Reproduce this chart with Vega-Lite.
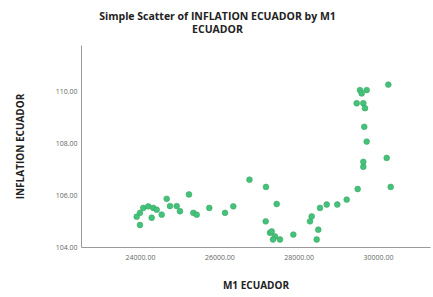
{
  "$schema": "https://vega.github.io/schema/vega-lite/v6.json",
  "autosize": "none",
  "width": 349,
  "height": 202,
  "padding": {"left": 81, "top": 45, "right": 3, "bottom": 50},
  "background": "white",
  "title": {
    "text": ["Simple Scatter of INFLATION ECUADOR by M1", "ECUADOR"],
    "font": "Open Sans",
    "fontSize": 10.5,
    "fontWeight": "bold",
    "color": "#222222",
    "anchor": "middle",
    "dx": -38,
    "offset": 10,
    "lineHeight": 12.5
  },
  "config": {
    "view": {"stroke": null},
    "axis": {
      "grid": false,
      "domainColor": "#999999",
      "domainWidth": 1,
      "ticks": false,
      "labelFont": "Open Sans",
      "labelFontSize": 7,
      "labelColor": "#666666",
      "titleFont": "Open Sans",
      "titleFontSize": 10,
      "titleFontWeight": "bold",
      "titleColor": "#222222"
    }
  },
  "data": {
    "values": [
      {"m1": 23917, "inflation": 105.17},
      {"m1": 24000, "inflation": 104.85},
      {"m1": 24000, "inflation": 105.32},
      {"m1": 24083, "inflation": 105.51},
      {"m1": 24209, "inflation": 105.57},
      {"m1": 24295, "inflation": 105.13},
      {"m1": 24335, "inflation": 105.51},
      {"m1": 24421, "inflation": 105.44},
      {"m1": 24547, "inflation": 105.25},
      {"m1": 24673, "inflation": 105.86},
      {"m1": 24756, "inflation": 105.58},
      {"m1": 24925, "inflation": 105.58},
      {"m1": 25008, "inflation": 105.38},
      {"m1": 25235, "inflation": 106.03},
      {"m1": 25344, "inflation": 105.32},
      {"m1": 25429, "inflation": 105.25},
      {"m1": 25747, "inflation": 105.51},
      {"m1": 26143, "inflation": 105.32},
      {"m1": 26352, "inflation": 105.57},
      {"m1": 26760, "inflation": 106.6},
      {"m1": 27176, "inflation": 106.32},
      {"m1": 27169, "inflation": 104.99},
      {"m1": 27446, "inflation": 105.66},
      {"m1": 27277, "inflation": 104.55},
      {"m1": 27320, "inflation": 104.6},
      {"m1": 27403, "inflation": 104.41},
      {"m1": 27353, "inflation": 104.29},
      {"m1": 27529, "inflation": 104.29},
      {"m1": 27865, "inflation": 104.48},
      {"m1": 28286, "inflation": 104.99},
      {"m1": 28329, "inflation": 105.18},
      {"m1": 28495, "inflation": 104.67},
      {"m1": 28455, "inflation": 104.29},
      {"m1": 28538, "inflation": 105.51},
      {"m1": 28707, "inflation": 105.64},
      {"m1": 28974, "inflation": 105.64},
      {"m1": 29211, "inflation": 105.83},
      {"m1": 29488, "inflation": 106.24},
      {"m1": 29630, "inflation": 107.1},
      {"m1": 29630, "inflation": 107.29},
      {"m1": 29715, "inflation": 108.07},
      {"m1": 29654, "inflation": 108.64},
      {"m1": 29463, "inflation": 109.55},
      {"m1": 29630, "inflation": 109.55},
      {"m1": 29672, "inflation": 109.36},
      {"m1": 29546, "inflation": 110.06},
      {"m1": 29715, "inflation": 110.06},
      {"m1": 29589, "inflation": 109.93},
      {"m1": 30260, "inflation": 110.27},
      {"m1": 30219, "inflation": 107.44},
      {"m1": 30320, "inflation": 106.32}
    ]
  },
  "mark": {"type": "circle", "size": 34, "opacity": 1, "color": "#45c27a", "stroke": "#34a060", "strokeWidth": 0.5},
  "encoding": {
    "x": {
      "field": "m1",
      "type": "quantitative",
      "title": "M1 ECUADOR",
      "scale": {"domain": [22513, 31311], "nice": false, "zero": false},
      "axis": {"values": [24000, 26000, 28000, 30000], "format": ".2f", "labelPadding": 6, "titlePadding": 20}
    },
    "y": {
      "field": "inflation",
      "type": "quantitative",
      "title": "INFLATION ECUADOR",
      "scale": {"domain": [104, 111.8], "nice": false, "zero": false},
      "axis": {"values": [104, 106, 108, 110], "format": ".2f", "labelPadding": 4, "titlePadding": 30}
    }
  }
}
